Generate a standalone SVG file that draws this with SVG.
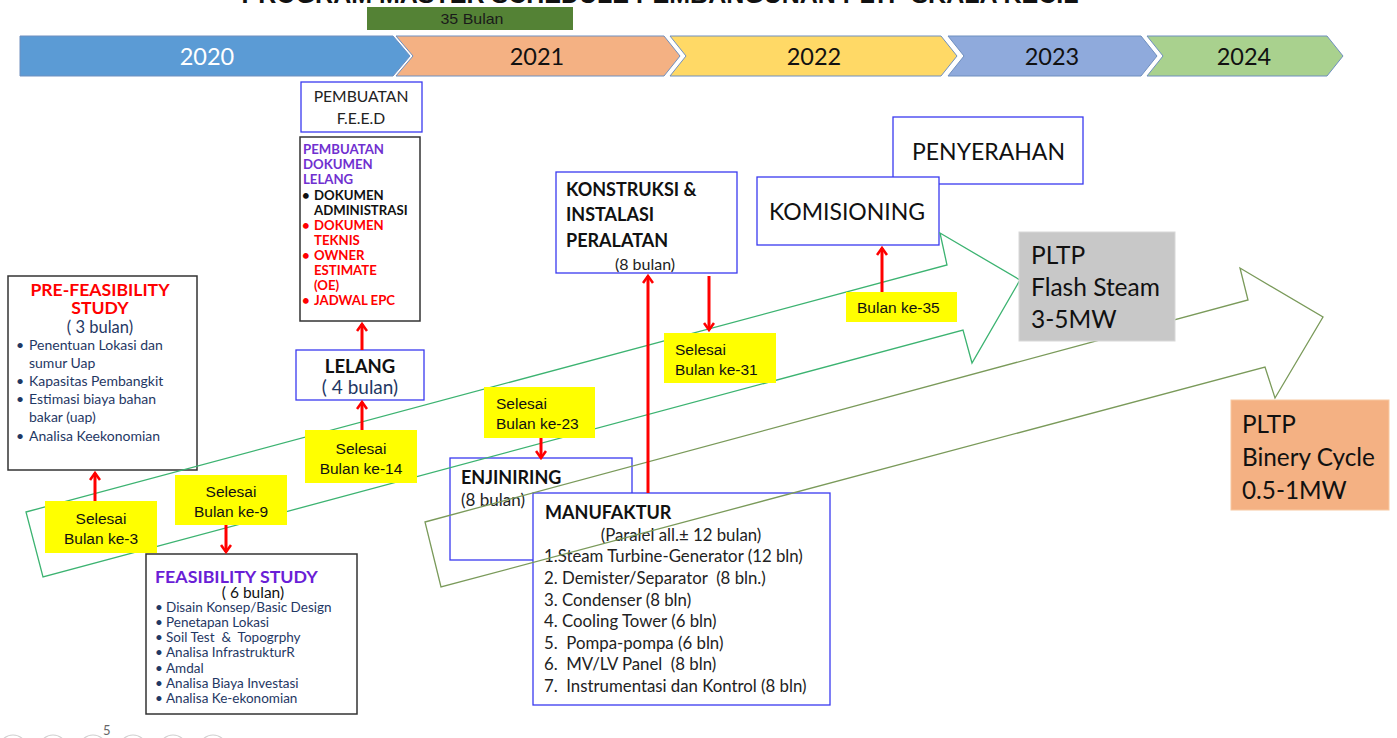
<svg xmlns="http://www.w3.org/2000/svg" width="1397" height="738" viewBox="0 0 1397 738">
  <style>
    .cal { font-family: Lato, "Open Sans", "Noto Sans", sans-serif; }
    .ar { font-family: "Liberation Sans", Arial, sans-serif; }
    .box { fill: #ffffff; stroke: #3a3af0; stroke-width: 1.3; }
    .kbox { fill: #ffffff; stroke: #333333; stroke-width: 1.5; }
    .tag { fill: #ffff00; }
    .tagtxt { font-family: "Liberation Sans", Arial, sans-serif; font-size: 15.5px; fill: #111111; }
    .red { stroke: #ff0000; stroke-width: 3; fill: none; marker-end: url(#head); }
    .year { font-family: Lato, "Open Sans", sans-serif; font-size: 23.5px; text-anchor: middle; }
    .nav { fill: none; stroke: #d0d0d0; stroke-width: 1.2; }
    .navy { fill: #1f3864; }
  </style>
  <defs>
    <marker id="head" viewBox="0 0 12 12" refX="10" refY="6" markerWidth="12" markerHeight="12" markerUnits="userSpaceOnUse" orient="auto">
      <path d="M3,1 L10,6 L3,11" fill="none" stroke="#ff0000" stroke-width="2.6"/>
    </marker>
  </defs>

  <rect x="0" y="0" width="1397" height="738" fill="#ffffff"/>

  <!-- title, running off the top edge -->
  <text x="660" y="3" class="ar" font-size="25" font-weight="bold" text-anchor="middle" fill="#111111">PROGRAM MASTER SCHEDULE PEMBANGUNAN PLTP SKALA KECIL</text>

  <!-- duration bar -->
  <g id="durasi">
    <rect x="367" y="7" width="206" height="23" fill="#548235"/>
    <text x="472" y="24" class="ar" font-size="15" text-anchor="middle" fill="#1a1a1a" textLength="63" lengthAdjust="spacingAndGlyphs">35 Bulan</text>
  </g>

  <!-- year chevrons -->
  <g id="tahun" stroke="#6f8fbf" stroke-width="1">
    <path d="M20,36 L393,36 L410,56 L393,76 L20,76 Z" fill="#5b9bd5"/>
    <path d="M396,36 L664,36 L680,56 L664,76 L396,76 L413,56 Z" fill="#f4b183"/>
    <path d="M670,36 L941,36 L957,56 L941,76 L670,76 L686,56 Z" fill="#ffd966"/>
    <path d="M948,36 L1141,36 L1157,56 L1141,76 L948,76 L964,56 Z" fill="#8faadc"/>
    <path d="M1147,36 L1327,36 L1343,56 L1327,76 L1147,76 L1163,56 Z" fill="#a9d18e"/>
  </g>
  <g>
    <text x="207" y="65" class="year" fill="#ffffff">2020</text>
    <text x="537" y="65" class="year" fill="#111111">2021</text>
    <text x="814" y="65" class="year" fill="#111111">2022</text>
    <text x="1052" y="65" class="year" fill="#111111">2023</text>
    <text x="1244" y="65" class="year" fill="#111111">2024</text>
  </g>

  <!-- white boxes -->
  <g id="pra-fs">
    <rect x="8" y="276" width="189" height="194" class="kbox"/>
    <text class="cal" font-weight="bold" font-size="17.6" fill="#ff0000" text-anchor="middle"><tspan x="100" y="296">PRE-FEASIBILITY</tspan><tspan x="100" y="314">STUDY</tspan></text>
    <text x="100" y="333" class="cal navy" font-size="16.5" text-anchor="middle">( 3 bulan)</text>
    <g class="cal navy" font-size="14">
      <text x="16" y="350">•</text><text x="29" y="350">Penentuan Lokasi dan</text>
      <text x="29" y="368">sumur Uap</text>
      <text x="16" y="386">•</text><text x="29" y="386">Kapasitas Pembangkit</text>
      <text x="16" y="404">•</text><text x="29" y="404">Estimasi biaya bahan</text>
      <text x="29" y="422">bakar (uap)</text>
      <text x="16" y="441">•</text><text x="29" y="441">Analisa Keekonomian</text>
    </g>
  </g>

  <g id="fs">
    <rect x="146" y="554" width="211" height="160" class="kbox"/>
    <text x="155" y="583" class="cal" font-weight="bold" font-size="17.8" fill="#6a1ed6">FEASIBILITY STUDY</text>
    <text x="253" y="598" class="cal" font-size="15.5" fill="#111111" text-anchor="middle">( 6 bulan)</text>
    <g class="cal navy" font-size="13.5">
      <text x="155" y="612">•</text><text x="166" y="612">Disain Konsep/Basic Design</text>
      <text x="155" y="627">•</text><text x="166" y="627">Penetapan Lokasi</text>
      <text x="155" y="642">•</text><text x="166" y="642">Soil Test &#160;&amp; &#160;Topogrphy</text>
      <text x="155" y="657">•</text><text x="166" y="657">Analisa InfrastrukturR</text>
      <text x="155" y="673">•</text><text x="166" y="673">Amdal</text>
      <text x="155" y="688">•</text><text x="166" y="688">Analisa Biaya Investasi</text>
      <text x="155" y="703">•</text><text x="166" y="703">Analisa Ke-ekonomian</text>
    </g>
  </g>

  <g id="feed">
    <rect x="301" y="82" width="121" height="50" class="box"/>
    <text class="cal" font-size="15.7" fill="#222222" text-anchor="middle"><tspan x="361" y="102">PEMBUATAN</tspan><tspan x="361" y="124">F.E.E.D</tspan></text>
  </g>

  <g id="dok-lelang">
    <rect x="300" y="137" width="120" height="184" class="kbox"/>
    <g class="cal" font-weight="bold" font-size="13.2">
      <g fill="#7030d0">
        <text x="303" y="154">PEMBUATAN</text>
        <text x="303" y="169">DOKUMEN</text>
        <text x="303" y="184">LELANG</text>
      </g>
      <g fill="#111111">
        <text x="302" y="200">•</text><text x="314" y="200">DOKUMEN</text>
        <text x="314" y="215">ADMINISTRASI</text>
      </g>
      <g fill="#ff0000">
        <text x="302" y="230">•</text><text x="314" y="230">DOKUMEN</text>
        <text x="314" y="245">TEKNIS</text>
        <text x="302" y="260">•</text><text x="314" y="260">OWNER</text>
        <text x="314" y="275">ESTIMATE</text>
        <text x="314" y="290">(OE)</text>
        <text x="302" y="305">•</text><text x="314" y="305">JADWAL EPC</text>
      </g>
    </g>
  </g>

  <g id="lelang">
    <rect x="296" y="350" width="128" height="50" class="box"/>
    <text x="360" y="373" class="cal" font-weight="bold" font-size="18.5" fill="#111111" text-anchor="middle">LELANG</text>
    <text x="360" y="394" class="cal navy" font-size="19" text-anchor="middle">( 4 bulan)</text>
  </g>

  <g id="enjiniring">
    <rect x="450" y="458" width="182" height="102" class="box"/>
    <text x="461" y="484" class="cal" font-weight="bold" font-size="18" fill="#111111">ENJINIRING</text>
    <text x="461" y="506" class="cal" font-size="17" fill="#222222">(8 bulan)</text>
  </g>

  <g id="manufaktur">
    <rect x="533" y="493" width="297" height="212" class="box"/>
    <text x="545" y="519" class="cal" font-weight="bold" font-size="18" fill="#111111">MANUFAKTUR</text>
    <text x="681" y="541" class="cal" font-size="16.8" fill="#222222" text-anchor="middle">(Paralel all.± 12 bulan)</text>
    <g class="cal" font-size="16.8" fill="#222222">
      <text x="544" y="562">1.Steam Turbine-Generator (12 bln)</text>
      <text x="544" y="584">2. Demister/Separator &#160;(8 bln.)</text>
      <text x="544" y="606">3. Condenser (8 bln)</text>
      <text x="544" y="627">4. Cooling Tower (6 bln)</text>
      <text x="544" y="649">5. &#160;Pompa-pompa (6 bln)</text>
      <text x="544" y="670">6. &#160;MV/LV Panel &#160;(8 bln)</text>
      <text x="544" y="692">7. &#160;Instrumentasi dan Kontrol (8 bln)</text>
    </g>
  </g>

  <g id="konstruksi">
    <rect x="556" y="172" width="181" height="101" class="box"/>
    <text class="cal" font-weight="bold" font-size="18" fill="#111111"><tspan x="566" y="196">KONSTRUKSI &amp;</tspan><tspan x="566" y="221">INSTALASI</tspan><tspan x="566" y="247">PERALATAN</tspan></text>
    <text x="645" y="270" class="cal" font-size="16" fill="#222222" text-anchor="middle">(8 bulan)</text>
  </g>

  <g id="penyerahan">
    <rect x="893" y="117" width="190" height="67" class="box"/>
    <text x="912" y="160" class="cal" font-size="23" fill="#111111">PENYERAHAN</text>
  </g>

  <g id="komisioning">
    <rect x="757" y="177" width="182" height="68" class="box"/>
    <text x="769" y="220" class="cal" font-size="23" fill="#111111">KOMISIONING</text>
  </g>

  <!-- progress block arrows -->
  <g id="connectors" fill="none">
    <path d="M26,512 L947,265 L940,233 L1020,280 L972,363 L963,330 L43,577 Z" stroke="#3cb371" stroke-width="1.3"/>
    <path d="M425,522 L1248,300 L1240,268 L1323,317 L1275,398 L1265,367 L441,587 Z" stroke="#7a9a5a" stroke-width="1.3"/>

    <!-- red milestone arrows -->
    <path d="M95,501 L95,473" class="red"/>
    <path d="M226,525 L226,552" class="red"/>
    <path d="M362,432 L362,402" class="red"/>
    <path d="M362,350 L362,324" class="red"/>
    <path d="M541,438 L541,458" class="red"/>
    <path d="M648,493 L648,276" class="red"/>
    <path d="M709,276 L709,330" class="red"/>
    <path d="M882,292 L882,248" class="red"/>
  </g>

  <!-- milestone tags -->
  <g id="tag-3">
    <rect x="45" y="501" width="112" height="52" class="tag"/>
    <text class="tagtxt" text-anchor="middle"><tspan x="101" y="524">Selesai</tspan><tspan x="101" y="544">Bulan ke-3</tspan></text>
  </g>
  <g id="tag-9">
    <rect x="175" y="475" width="112" height="50" class="tag"/>
    <text class="tagtxt" text-anchor="middle"><tspan x="231" y="497">Selesai</tspan><tspan x="231" y="517">Bulan ke-9</tspan></text>
  </g>
  <g id="tag-14">
    <rect x="305" y="430" width="112" height="53" class="tag"/>
    <text class="tagtxt" text-anchor="middle"><tspan x="361" y="454">Selesai</tspan><tspan x="361" y="474">Bulan ke-14</tspan></text>
  </g>
  <g id="tag-23">
    <rect x="484" y="387" width="111" height="51" class="tag"/>
    <text class="tagtxt"><tspan x="496" y="409">Selesai</tspan><tspan x="496" y="429">Bulan ke-23</tspan></text>
  </g>
  <g id="tag-31">
    <rect x="664" y="333" width="112" height="50" class="tag"/>
    <text class="tagtxt"><tspan x="675" y="355">Selesai</tspan><tspan x="675" y="375">Bulan ke-31</tspan></text>
  </g>
  <g id="tag-35">
    <rect x="846" y="292" width="111" height="30" class="tag"/>
    <text x="857" y="313" class="tagtxt">Bulan ke-35</text>
  </g>

  <!-- plant outputs -->
  <g id="flash-steam">
    <rect x="1019" y="232" width="156" height="109" fill="#c8c8c8" stroke="#d8d8d8" stroke-width="1"/>
    <text class="cal" font-size="24.5" fill="#111111"><tspan x="1031" y="264">PLTP</tspan><tspan x="1031" y="296">Flash Steam</tspan><tspan x="1031" y="328">3-5MW</tspan></text>
  </g>
  <g id="binary-cycle">
    <rect x="1231" y="400" width="158" height="110" fill="#f4b183" stroke="#f8c8a0" stroke-width="1"/>
    <text class="cal" font-size="24.3" fill="#111111"><tspan x="1242" y="433">PLTP</tspan><tspan x="1242" y="466">Binery Cycle</tspan><tspan x="1242" y="499">0.5-1MW</tspan></text>
  </g>

  <!-- slide footer -->
  <g id="footer">
    <circle cx="13" cy="749" r="14" class="nav"/>
    <circle cx="53" cy="749" r="14" class="nav"/>
    <circle cx="93" cy="749" r="14" class="nav"/>
    <circle cx="133" cy="749" r="14" class="nav"/>
    <circle cx="173" cy="749" r="14" class="nav"/>
    <circle cx="213" cy="749" r="14" class="nav"/>
    <text x="103" y="735" class="cal" font-size="13" fill="#666666">5</text>
  </g>
</svg>
